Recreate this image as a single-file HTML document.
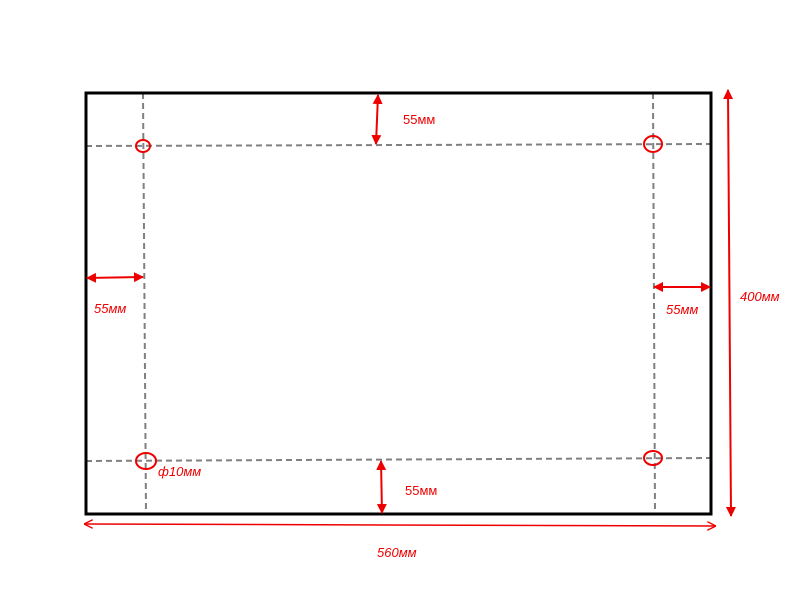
<!DOCTYPE html>
<html><head><meta charset="utf-8"><style>body{margin:0;background:#fff}svg{display:block}</style></head><body>
<svg width="800" height="600" viewBox="0 0 800 600" xmlns="http://www.w3.org/2000/svg" font-family="Liberation Sans, DejaVu Sans, sans-serif">
<defs>
<marker id="a" viewBox="0 0 10 10" refX="9" refY="5" markerWidth="5" markerHeight="5" orient="auto-start-reverse"><path d="M0,0L10,5L0,10z" fill="#e00"/></marker>
<marker id="o" viewBox="0 0 10 10" refX="9" refY="5" markerWidth="6" markerHeight="6" orient="auto-start-reverse"><path d="M0,0L10,5L0,10" fill="none" stroke="#e00" stroke-width="1.5"/></marker>
</defs>
<g stroke="#808080" stroke-width="2" stroke-dasharray="6,4" fill="none">
<line x1="86" y1="146" x2="711" y2="144"/>
<line x1="86" y1="461" x2="711" y2="458"/>
<line x1="143" y1="93" x2="146" y2="514"/>
<line x1="653" y1="93" x2="655" y2="514"/>
</g>
<rect x="86" y="93" width="625" height="421" fill="none" stroke="#000" stroke-width="3"/>
<g fill="none" stroke="#e00" stroke-width="2">
<ellipse cx="143" cy="146" rx="7" ry="6"/>
<ellipse cx="653" cy="144" rx="9" ry="8"/>
<ellipse cx="146" cy="461" rx="10" ry="8"/>
<ellipse cx="653" cy="458" rx="9" ry="7"/>
<line x1="378" y1="95" x2="376" y2="144" marker-start="url(#a)" marker-end="url(#a)"/>
<line x1="381" y1="461" x2="382" y2="513" marker-start="url(#a)" marker-end="url(#a)"/>
<line x1="87" y1="278" x2="143" y2="277" marker-start="url(#a)" marker-end="url(#a)"/>
<line x1="654" y1="287" x2="710" y2="287" marker-start="url(#a)" marker-end="url(#a)"/>
<line x1="728" y1="90" x2="731" y2="516" marker-start="url(#a)" marker-end="url(#a)"/>
<line x1="85" y1="524" x2="715" y2="526" stroke-width="1.5" marker-start="url(#o)" marker-end="url(#o)"/>
</g>
<g fill="#e00" font-size="13">
<text x="403" y="124">55мм</text>
<text x="405" y="495">55мм</text>
<text x="94" y="313" font-style="italic">55мм</text>
<text x="666" y="314" font-style="italic">55мм</text>
<text x="740" y="301" font-style="italic">400мм</text>
<text x="377" y="557" font-style="italic">560мм</text>
<text x="158" y="476" font-style="italic">ф10мм</text>
</g>
</svg>
</body></html>
